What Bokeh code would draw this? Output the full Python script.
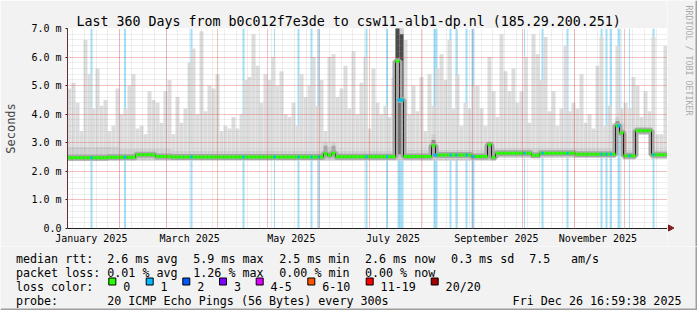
from datetime import datetime
import math
from bokeh.plotting import figure
from bokeh.layouts import column, row
from bokeh.models import FixedTicker, Range1d
from bokeh.core.properties import value
from bokeh.embed import file_html
from bokeh.resources import INLINE

# ---------------- data ----------------
START = datetime(2024, 12, 31, 16, 59, 38)
END = datetime(2025, 12, 26, 16, 59, 38)

title_text = "Last 360 Days from b0c012f7e3de to csw11-alb1-dp.nl (185.29.200.251)"
watermark_text = "RRDTOOL / TOBI OETIKER"
y_axis_title = "Seconds"

x_label_months = [1, 3, 5, 7, 9, 11]
x_label_texts = ["January 2025", "March 2025", "May 2025", "July 2025",
                 "September 2025", "November 2025"]
y_ticks = [0, 1, 2, 3, 4, 5, 6, 7]
y_tick_labels = ["0.0", "1.0 m", "2.0 m", "3.0 m", "4.0 m", "5.0 m", "6.0 m", "7.0 m"]

BIN_DAYS = 2.4  # one smoke column

# upper edge of the smoke (ms) per column
smoke_hi = [4.9, 5.1, 4.4, 3.4, 6.6, 5.4, 4.2, 5.6, 4.3, 4.5, 3.4, 3.6, 4.9, 4.0, 4.2, 5.0, 5.4, 3.5, 3.6, 3.3, 4.8, 4.5, 4.4, 3.7, 4.8,
            5.2, 3.3, 4.6, 3.7, 4.2, 5.8, 6.3, 4.0, 6.9, 4.1, 5.0, 4.9, 5.4, 3.4, 3.6, 3.5, 3.9, 3.5, 4.0, 5.2, 5.3, 6.8, 5.7, 4.4, 5.4, 5.2,
            6.0, 5.0, 5.5, 4.0, 3.9, 4.4, 3.6, 5.4, 4.6, 5.0, 6.0, 4.3, 5.2, 3.4, 6.0, 6.1, 4.6, 4.9, 5.7, 4.2, 6.2, 4.0, 5.1, 6.0, 3.5,
            5.6, 4.4, 4.0, 4.3, 3.9, 5.3, 7.5, 7.5, 6.6, 4.0, 5.0, 4.1, 5.3, 3.4, 5.4, 4.3, 5.6, 6.1, 5.2, 6.6, 4.2, 5.4, 3.6, 4.4, 4.2, 5.0,
            5.0, 4.2, 3.6, 6.0, 4.8, 3.9, 6.8, 5.5, 4.8, 5.6, 4.4, 4.8, 6.0, 3.7, 6.8, 6.1, 5.2, 6.7, 4.1, 4.8, 3.6, 4.2, 6.4, 4.1, 4.4,
            4.2, 5.4, 3.7, 4.0, 3.5, 5.7, 6.7, 3.6, 4.3, 3.7, 6.4, 4.2, 4.4, 4.2, 5.3, 5.0, 3.9, 4.8, 4.1, 6.7, 3.3, 3.3, 6.4]

# (number of columns, value) runs
median_runs = [(10, 2.48), (7, 2.49), (5, 2.58), (4, 2.52), (38, 2.50), (1, 2.62), (1, 2.56),
               (1, 2.63), (15, 2.51), (1, 5.85), (1, 4.50), (7, 2.52), (1, 2.90), (9, 2.57),
               (4, 2.52), (1, 2.93), (1, 2.49), (9, 2.63), (2, 2.56), (9, 2.63), (10, 2.60),
               (1, 3.60), (1, 3.35), (3, 2.55), (4, 3.42), (4, 2.58)]
smoke_lo_runs = [(107, 2.38), (30, 2.48), (2, 3.20), (3, 2.42), (4, 3.28), (4, 2.44)]
band_hi_runs = [(13, 2.85), (13, 2.78), (38, 2.72), (1, 3.0), (1, 2.85), (1, 3.0), (15, 2.72),
                (2, 7.5), (7, 2.75), (1, 3.3), (13, 2.75), (1, 3.0), (31, 2.8), (1, 3.9),
                (1, 3.7), (3, 2.75), (4, 3.55), (4, 2.75)]
core_bins = [64, 66, 82, 83, 91, 105, 137]
core_lo = [2.55, 2.55, 2.60, 2.60, 2.60, 2.55, 3.30]
core_hi = [2.90, 2.90, 7.50, 6.80, 3.10, 2.95, 3.75]
core_colors = ["#a8a8a8", "#a8a8a8", "#4a4a4a", "#4a4a4a", "#8a8a8a", "#8a8a8a", "#8a8a8a"]

# packet loss events (day offset from start, duration in days, lost pings)
loss_days = [14.4, 34.5, 74.4, 105.6, 124.2, 138.6, 146.4, 150.6, 179.4, 191.7, 199.8, 220.8,
             229.8, 233.4, 239.4, 243.3, 274.2, 285.0, 300.0, 320.4, 323.4, 326.1, 330.9, 337.2, 351.6]
loss_widths = [1.2, 1.2, 1.2, 1.2, 0.6, 1.2, 1.2, 1.2, 1.2, 1.2, 3.6, 2.4, 1.2, 1.2, 1.2, 1.8,
               0.6, 1.2, 1.2, 1.2, 1.2, 1.2, 1.8, 0.6, 1.2]
loss_counts = [1, 1, 1, 1, 1, 1, 1, 1, 1, 1, 1, 1, 1, 1, 1, 1, 1, 1, 1, 1, 1, 1, 1, 1, 1]

loss_legend_labels = ["0", "1", "2", "3", "4-5", "6-10", "11-19", "20/20"]
loss_legend_colors = ["#26ff00", "#00b8ff", "#0059ff", "#7e00ff", "#dd00ff", "#ff5500", "#ff0000", "#a00000"]
loss_bg_colors = {1: "#a3e0f8"}

legend_row1 = ["median rtt:", "2.6 ms avg", "5.9 ms max", "2.5 ms min", "2.6 ms now", "0.3 ms sd", "7.5", "am/s"]
legend_row2 = ["packet loss:", "0.01 % avg", "1.26 % max", "0.00 % min", "0.00 % now"]
legend_row3_title = "loss color:"
legend_row4 = ["probe:", "20 ICMP Echo Pings (56 Bytes) every 300s"]
legend_date = "Fri Dec 26 16:59:38 2025"

# ---------------- helpers ----------------
def expand(runs):
    out = []
    for n, v in runs:
        out += [v] * n
    return out

def day_of(dt):
    return (dt - START).total_seconds() / 86400.0

SPAN = day_of(END)
YMAX = 7.0
W = 697
EDGE = 2                      # dark frame edge (right / bottom)
H_MAIN, H_LEG = 246, 64
FL, FR, FT, FB = 67, 667, 28, 228   # frame edges in pixels

median = expand(median_runs)
smoke_lo = expand(smoke_lo_runs)
band_hi = expand(band_hi_runs)
nb = len(smoke_hi)
bin_l = [k * BIN_DAYS for k in range(nb)]
bin_r = [(k + 1) * BIN_DAYS for k in range(nb)]

month_days = [round(day_of(datetime(2025, m, 1)), 4) for m in range(1, 13)]
label_days = [round(day_of(datetime(2025, m, 15)), 4) for m in x_label_months]
week_days = []
d = day_of(datetime(2025, 1, 4))
while d < SPAN:
    week_days.append(round(d, 4))
    d += 7
y_minor = [round(i * 0.2, 2) for i in range(36) if i % 5 != 0]

FONT = "DejaVu Sans Mono"
BG = "#f2f2f2"
SHADE_B = "#9e9e9e"
ARROW = "#801f1f"
AXIS = "#1f1f1f"

def strip(width, height, x0, y0):
    """A figure whose frame is the whole strip, in page-pixel coordinates."""
    f = figure(width=width, height=height, x_range=Range1d(x0, x0 + width),
               y_range=Range1d(y0 + height, y0), output_backend="svg", toolbar_location=None,
               min_border=0, background_fill_color=BG, border_fill_color=BG, outline_line_color=None,
               x_axis_location=None, y_axis_location=None)
    f.frame_align = False
    f.grid.visible = False
    return f

# ---------------- graph ----------------
p = figure(width=FR, height=H_MAIN, x_range=Range1d(0, SPAN), y_range=Range1d(0, YMAX),
           output_backend="svg", toolbar_location=None,
           min_border_left=FL, min_border_right=0, min_border_top=FT,
           min_border_bottom=H_MAIN - FB,
           background_fill_color="white", border_fill_color=BG, outline_line_color=None)
p.frame_align = False

# loss background
p.quad(left=[dd - w / 2 for dd, w in zip(loss_days, loss_widths)],
       right=[dd + w / 2 for dd, w in zip(loss_days, loss_widths)],
       bottom=0, top=YMAX, fill_color=[loss_bg_colors[c] for c in loss_counts], line_color=None)

# smoke
p.quad(left=bin_l, right=bin_r, bottom=smoke_lo, top=smoke_hi, fill_color="#dddddd", line_color=None)
p.quad(left=bin_l, right=bin_r, bottom=smoke_lo, top=band_hi, fill_color="#cfcfcf", line_color=None)
p.quad(left=[bin_l[k] for k in core_bins], right=[bin_r[k] for k in core_bins],
       bottom=core_lo, top=core_hi, fill_color=core_colors, line_color=None)

# median
mx, my = [], []
for k in range(nb):
    mx += [bin_l[k], bin_r[k]]
    my += [median[k], median[k]]
p.line(mx, my, line_width=6, line_color="#a8a8a8")
p.line(mx, my, line_width=1, line_color=AXIS)
p.segment(x0=bin_l, y0=median, x1=bin_r, y1=median, line_width=3,
          line_color=loss_legend_colors[0], line_cap="butt")
lseg_y = [median[min(nb - 1, int(dd // BIN_DAYS))] for dd in loss_days]
p.segment(x0=[dd - max(w, 1.2) / 2 for dd, w in zip(loss_days, loss_widths)], y0=lseg_y,
          x1=[dd + max(w, 1.2) / 2 for dd, w in zip(loss_days, loss_widths)], y1=lseg_y,
          line_width=3, line_color=[loss_legend_colors[c] for c in loss_counts], line_cap="butt")

# axes
p.yaxis.ticker = FixedTicker(ticks=y_ticks, minor_ticks=[])
p.yaxis.major_label_overrides = dict(zip(y_ticks, y_tick_labels))
p.yaxis.axis_label = y_axis_title
p.yaxis.axis_label_text_font = FONT
p.yaxis.axis_label_text_font_size = "12px"
p.yaxis.axis_label_text_font_style = "normal"
p.yaxis.axis_label_standoff = 10
p.xaxis.ticker = FixedTicker(ticks=label_days, minor_ticks=[])
p.xaxis.major_label_overrides = dict(zip(label_days, x_label_texts))
for ax in (p.xaxis, p.yaxis):
    ax.major_label_text_font = FONT
    ax.major_label_text_font_size = "10px"
    ax.major_label_text_color = "black"
    ax.axis_line_color = AXIS
    ax.major_tick_line_color = AXIS
    ax.minor_tick_line_color = None
    ax.major_label_standoff = 4
p.xaxis.major_tick_out = 0
p.xaxis.major_tick_in = 0
p.yaxis.major_tick_out = 2
p.yaxis.major_tick_in = 0

# grid (on top of the data, as rrdtool does)
p.xgrid.ticker = FixedTicker(ticks=month_days, minor_ticks=week_days)
p.ygrid.ticker = FixedTicker(ticks=y_ticks[1:], minor_ticks=y_minor)
for g in (p.xgrid, p.ygrid):
    g.level = "overlay"
    g.grid_line_color = "#de4f4f"
    g.grid_line_alpha = 0.7
    g.grid_line_dash = "1 1"
    g.grid_line_width = 1
    g.minor_grid_line_color = "#8f8f8f"
    g.minor_grid_line_alpha = 0.3
    g.minor_grid_line_dash = "1 1"
    g.minor_grid_line_width = 1

# title (above)
p.title.text = title_text
p.title.align = "left"
p.title.offset = 9
p.title.standoff = 0
p.title.text_font = FONT
p.title.text_font_size = "13.3px"
p.title.text_font_style = "normal"
p.title.text_color = "black"

# ---------------- right strip: watermark, x arrow, dark edge ----------------
side = strip(W - FR, H_MAIN, FR, 0)
side.text(x=[688.5], y=[5], text=[watermark_text], angle=-math.pi / 2, text_font=value(FONT),
          text_font_size=value("8.3px"), text_align="left", text_baseline="middle", text_color="#ababab")
side.segment(x0=[FR], y0=[FB - 0.5], x1=[FR + 2], y1=[FB - 0.5], line_color=AXIS, line_width=1)
side.patch(x=[FR + 1, FR + 6.5, FR + 1], y=[FB - 3.5, FB - 0.5, FB + 2.5], fill_color=ARROW, line_color=ARROW)
side.quad(left=[W - EDGE], right=[W], top=[0], bottom=[H_MAIN], fill_color=SHADE_B, line_color=None)

# ---------------- legend ----------------
lg = strip(W, H_LEG, 0, H_MAIN)

row_y = [258.3, 272.3, 286.3, 300.3]
col_x = [15.4, 106.7, 192.7, 278.7, 364.4, 450.4, 528.7, 570.4]
box_x = [108.3, 145.7, 182.3, 219.0, 255.7, 307.3, 365.7, 430.7]

tx, ty, tt = [], [], []
for i, t in enumerate(legend_row1):
    tx.append(col_x[i]); ty.append(row_y[0]); tt.append(t)
for i, t in enumerate(legend_row2):
    tx.append(col_x[i]); ty.append(row_y[1]); tt.append(t)
tx.append(col_x[0]); ty.append(row_y[2]); tt.append(legend_row3_title)
for bx, t in zip(box_x, loss_legend_labels):
    tx.append(bx + 14.4); ty.append(row_y[2]); tt.append(t)
for i, t in enumerate(legend_row4):
    tx.append(col_x[i]); ty.append(row_y[3]); tt.append(t)
lg.text(x=tx, y=ty, text=tt, text_font=value(FONT), text_font_size=value("11.7px"),
        text_baseline="alphabetic", text_align="left", text_color="black")
lg.text(x=[681.0], y=[row_y[3]], text=[legend_date], text_font=value(FONT),
        text_font_size=value("11.7px"), text_baseline="alphabetic", text_align="right", text_color="black")
lg.quad(left=box_x, right=[b + 7 for b in box_x], top=277.5, bottom=284.5,
        fill_color=loss_legend_colors, line_color="black", line_width=1)
lg.quad(left=[0, W - EDGE], right=[W, W], top=[H_MAIN + H_LEG - EDGE, H_MAIN],
        bottom=[H_MAIN + H_LEG, H_MAIN + H_LEG], fill_color=SHADE_B, line_color=None)

layout = column(row(p, side, spacing=0), lg, spacing=0)
open("out.html", "w").write(file_html(layout, INLINE))
